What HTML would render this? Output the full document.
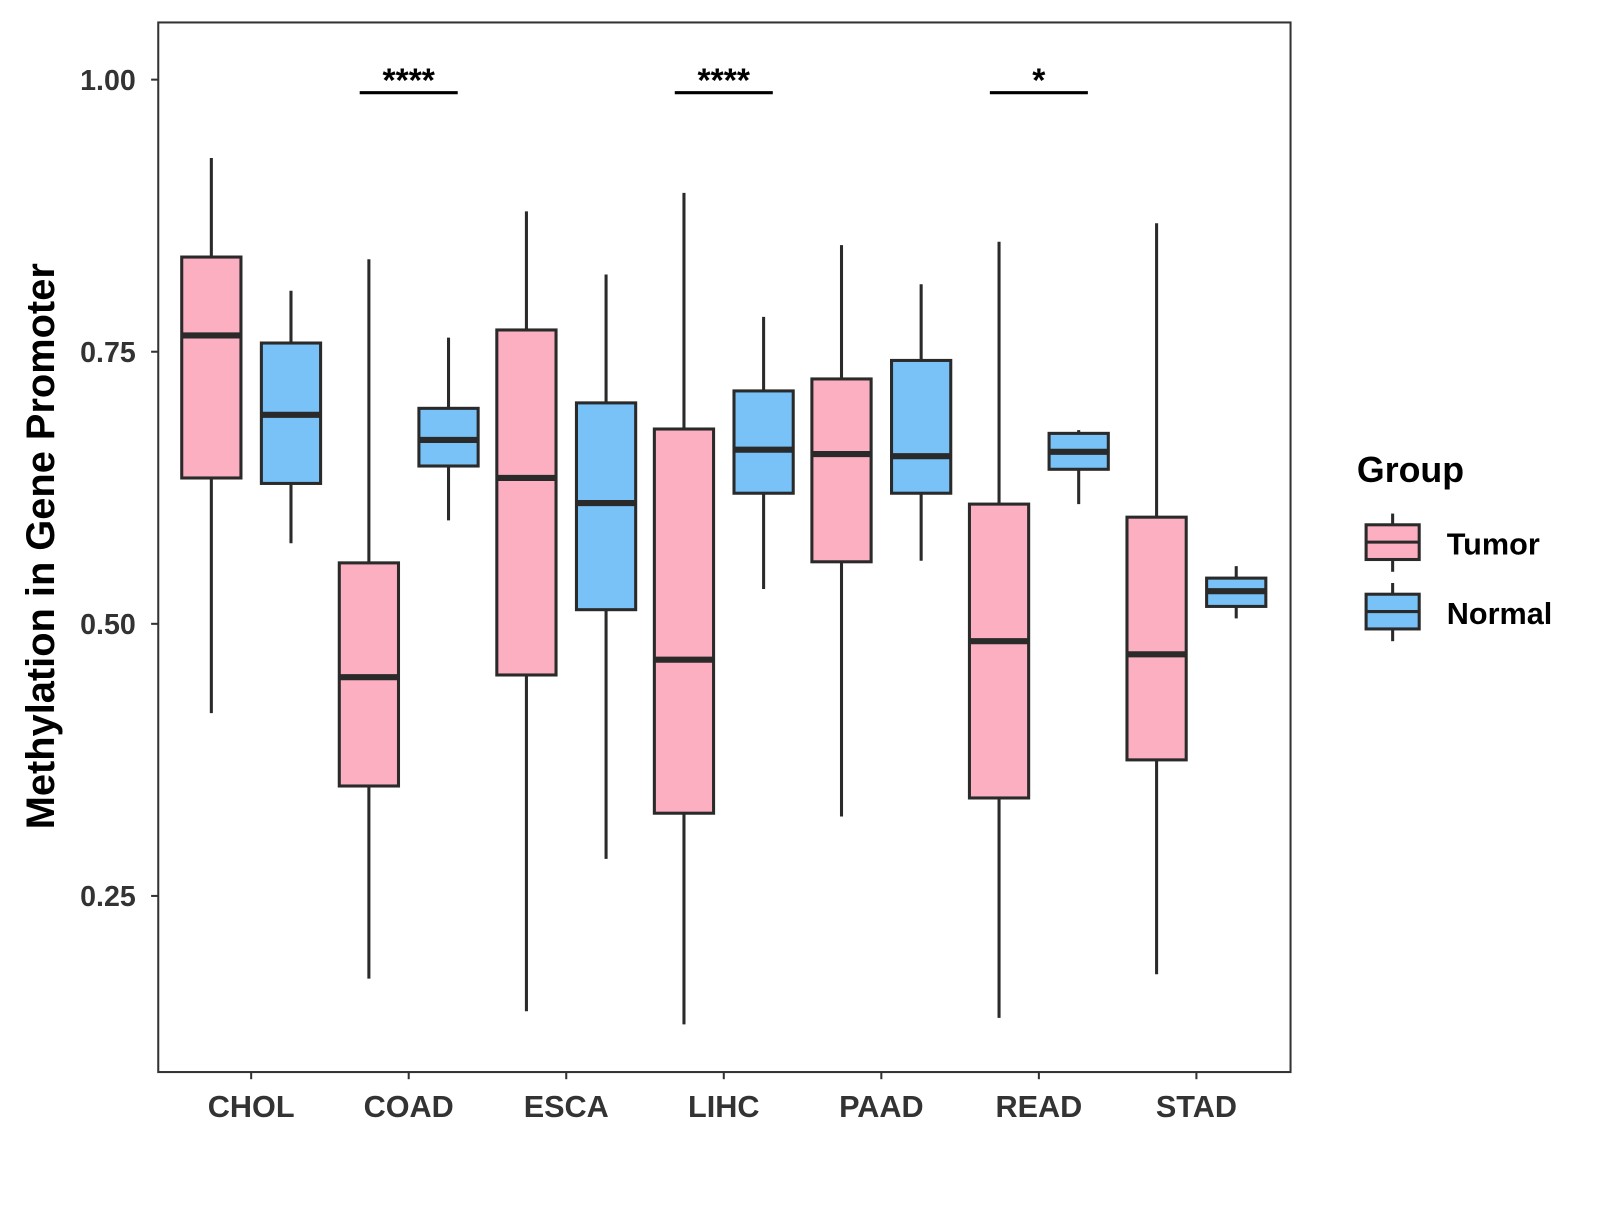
<!DOCTYPE html>
<html><head><meta charset="utf-8"><style>
body{margin:0;background:#fff}
svg text{font-family:"Liberation Sans",Arial,sans-serif;font-weight:bold}
</style></head><body>
<svg id="chart" width="1600" height="1200" viewBox="0 0 1600 1200" xmlns="http://www.w3.org/2000/svg">
<g transform="scale(1.021)">
<rect x="155" y="22" width="1109" height="1028" fill="#fff" stroke="#333" stroke-width="2"/>
<g id="yaxis"></g>
<g id="xaxis"></g>
<g id="boxes"></g>
<g id="sig"></g>
<text transform="translate(53,535) rotate(-90)" text-anchor="middle" font-size="39" fill="#000">Methylation in Gene Promoter</text>
<g>
<text x="1329" y="472" font-size="35" fill="#000">Group</text>
<g>
<line x1="1364" y1="503" x2="1364" y2="560" stroke="#2a2a2a" stroke-width="3"/>
<rect x="1338" y="514" width="52" height="34" fill="#fbafc0" stroke="#2a2a2a" stroke-width="3"/>
<line x1="1338" y1="531" x2="1390" y2="531" stroke="#2a2a2a" stroke-width="3"/>
<text x="1417" y="543" font-size="30" fill="#000">Tumor</text></g>
<g>
<line x1="1364" y1="571" x2="1364" y2="628" stroke="#2a2a2a" stroke-width="3"/>
<rect x="1338" y="582" width="52" height="34" fill="#78c2f7" stroke="#2a2a2a" stroke-width="3"/>
<line x1="1338" y1="599" x2="1390" y2="599" stroke="#2a2a2a" stroke-width="3"/>
<text x="1417" y="611" font-size="30" fill="#000">Normal</text></g>
</g>
</g>
</svg>
<script>
const categories=["CHOL","COAD","ESCA","LIHC","PAAD","READ","STAD"];
// [whiskerLow, q1, median, q3, whiskerHigh]
const tumorStats=[[0.418,0.634,0.765,0.837,0.928],[0.174,0.351,0.451,0.556,0.835],[0.144,0.453,0.634,0.770,0.879],[0.132,0.326,0.467,0.679,0.896],[0.323,0.557,0.656,0.725,0.848],[0.138,0.340,0.484,0.610,0.851],[0.178,0.375,0.472,0.598,0.868]];
const normalStats=[[0.574,0.629,0.692,0.758,0.806],[0.595,0.645,0.669,0.698,0.763],[0.284,0.513,0.611,0.703,0.821],[0.532,0.620,0.660,0.714,0.782],[0.558,0.620,0.654,0.742,0.812],[0.610,0.642,0.658,0.675,0.678],[0.505,0.516,0.530,0.542,0.553]];
const yTicks=[0.25,0.50,0.75,1.00];
const yTickLabels=["0.25","0.50","0.75","1.00"];
const sigCategories=["COAD","LIHC","READ"];
const sigLabels=["****","****","*"];
const sigLevel=[0.988,0.988,0.988];

const NS="http://www.w3.org/2000/svg";
const y=v=>78+(1-v)*1066;
const x=i=>246+i*154.3;
function mk(tag,attrs,parent){const e=document.createElementNS(NS,tag);for(const k in attrs)e.setAttribute(k,attrs[k]);parent.appendChild(e);return e;}
const ya=document.getElementById('yaxis'),xa=document.getElementById('xaxis'),bx=document.getElementById('boxes'),sg=document.getElementById('sig');
yTicks.forEach((t,i)=>{
 const l=mk('line',{x1:148,x2:155,y1:y(t),y2:y(t),stroke:'#333','stroke-width':2},ya);
 
 
 const tx=mk('text',{x:133,y:y(t)+10,'text-anchor':'end','font-size':28,fill:'#333'},ya);
 tx.textContent=yTickLabels[i];
 
 
});
categories.forEach((c,i)=>{
 const l=mk('line',{x1:x(i),x2:x(i),y1:1050,y2:1057,stroke:'#333','stroke-width':2},xa);
 
 
 const tx=mk('text',{x:x(i),y:1094,'text-anchor':'middle','font-size':30,fill:'#333'},xa);
 tx.textContent=c;
 
 
});
function box(cx,s,fill,name){
 const g=mk('g',{},bx);
 
 
 const w=58,st='#2a2a2a';
 mk('line',{x1:cx,x2:cx,y1:y(s[4]),y2:y(s[0]),stroke:st,'stroke-width':3},g);
 mk('rect',{x:cx-w/2,y:y(s[3]),width:w,height:y(s[1])-y(s[3]),fill:fill,stroke:st,'stroke-width':3},g);
 mk('line',{x1:cx-w/2,x2:cx+w/2,y1:y(s[2]),y2:y(s[2]),stroke:st,'stroke-width':6},g);
}
categories.forEach((c,i)=>{
 box(x(i)-39,tumorStats[i],'#fbafc0','box-tumor-'+c.toLowerCase());
 box(x(i)+39,normalStats[i],'#78c2f7','box-normal-'+c.toLowerCase());
});
sigCategories.forEach((c,k)=>{
 const i=categories.indexOf(c);
 const l=mk('line',{x1:x(i)-48,x2:x(i)+48,y1:y(sigLevel[k]),y2:y(sigLevel[k]),stroke:'#000','stroke-width':3},sg);
 
 
 const t=mk('text',{x:x(i),y:y(sigLevel[k])-1,'text-anchor':'middle','font-size':33,fill:'#000'},sg);
 t.textContent=sigLabels[k];
 
 
});
</script>
</body></html>
